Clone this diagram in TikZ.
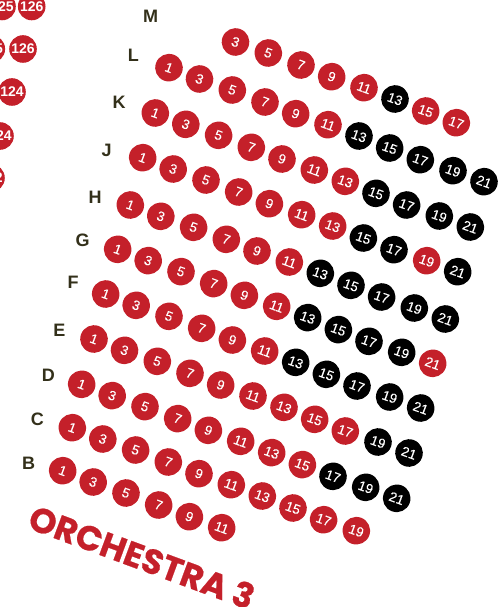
\documentclass[tikz,border=0pt]{standalone}
\usepackage{fontspec}
\setmainfont{Liberation Sans}
\newfontfamily\seatfont[FakeBold=0.25]{Liberation Sans}
\newfontfamily\titlefont[BoldFeatures={FakeBold=0.6}]{Poppins}
\definecolor{seatred}{HTML}{C4202A}
\definecolor{rowink}{HTML}{33301A}
\tikzset{
  seatbase/.style={circle,minimum size=27.6pt,inner sep=0pt,text=white,font=\seatfont\fontsize{13.5}{14}\selectfont},
  redseat/.style={seatbase,fill=seatred},
  blackseat/.style={seatbase,fill=black},
  sideseat/.style={circle,minimum size=27.6pt,inner sep=0pt,text=white,fill=seatred,font=\bfseries\fontsize{14}{14}\selectfont},
  rowlabel/.style={text=rowink,font=\bfseries\fontsize{18}{18}\selectfont,inner sep=0pt},
}
\begin{document}
\begin{tikzpicture}[x=1pt,y=-1pt]
\useasboundingbox (0,0) rectangle (500,607);
\clip (0,0) rectangle (500,607);
\node[sideseat] (s1) at (2,6.5) {125};
\node[sideseat] (s2) at (31.7,6.5) {126};
\node[sideseat] (s3) at (-8.7,49) {125};
\node[sideseat] (s4) at (23,49) {126};
\node[sideseat] (s5) at (12,92) {124};
\node[sideseat] (s6) at (0,136) {124};
\node[sideseat] (s7) at (-9,178) {122};
\foreach \rowname/\lx/\ly/\sx/\sy/\lo/\hi/\blk in {
  M/150.7/16.7/205/30.7/2/9/{7},
  L/133.3/55/169/67.7/1/11/{7,8,9,10,11},
  K/119/102.3/155.3/113/1/11/{8,9,10,11},
  J/106.7/150.3/142.7/157.7/1/11/{8,9,11},
  H/95/197/130.3/205/1/11/{7,8,9,10,11},
  G/82.7/240/117.7/249.3/1/11/{7,8,9,10},
  F/73/282.7/105.7/294/1/11/{7,8,9,10,11},
  E/59.3/330.7/94/339/1/11/{10,11},
  D/48.3/375/81.7/384.3/1/11/{9,10,11},
  C/37.3/419/72.3/427.7/1/10/{},
  B/28.7/463.3/62.7/470.7/1/6/{}}{
  \node[rowlabel] (lab\rowname) at (\lx,\ly) {\rowname};
  \foreach \i/\ox/\oy in {1/0/0,2/30.5/11.3,3/63.3/22.3,4/96/34.3,5/126.7/46,6/159/57,7/190/68.3,8/220.7/80.3,9/251.3/92,10/284/103,11/315/114}{
    \pgfmathtruncatemacro{\num}{2*\i-1}
    \def\kind{redseat}
    \foreach \b in \blk {\ifnum\b=\i\relax\global\def\kind{blackseat}\fi}
    \ifnum\i<\lo\else\ifnum\i>\hi\else
      \node[\kind,rotate=-20] (\rowname\num) at ({\sx+\ox},{\sy+\oy}) {\num};
    \fi\fi
    \global\def\kind{redseat}
  }
}
\node[text=seatred,font=\titlefont\bfseries\fontsize{34.5}{35}\selectfont,rotate=-20.3,inner sep=0pt] (title) at (142,557) {ORCHESTRA 3};
\end{tikzpicture}
\end{document}
